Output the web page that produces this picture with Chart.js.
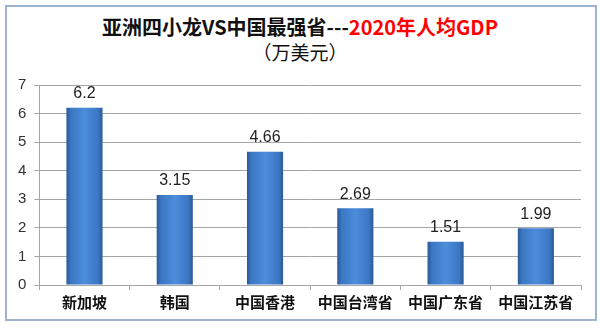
<!DOCTYPE html>
<html lang="zh">
<head>
  <meta charset="UTF-8">
  <title>亚洲四小龙VS中国最强省---2020年人均GDP</title>
  <script src="https://cdn.jsdelivr.net/npm/chart.js"></script>
  <style>
    body { margin: 0; background: #fff; }
    #frame {
      position: absolute; left: 5px; top: 5px;
      width: 588px; height: 312px;
      border: 2px solid #9db3cf;
    }
    .title {
      position: absolute; left: 0; width: 600px; text-align: center;
      font-family: "Noto Sans CJK SC", sans-serif; color: #111;
    }
    #t1 { top: 14px; font-size: 20px; font-weight: bold; line-height: 26px; }
    #t1 span { color: #ff0000; }
    #t2 { top: 39px; font-size: 19px; line-height: 26px; }
    #chartContainer { position: absolute; left: 0; top: 0; width: 600px; height: 325px; }
  </style>
</head>
<body>
<div id="frame"></div>
<div class="title" id="t1">亚洲四小龙VS中国最强省---<span>2020年人均GDP</span></div>
<div class="title" id="t2">（万美元）</div>
<div id="chartContainer">
  <canvas id="gdpChart" width="600" height="325"></canvas>
</div>

<script>
const regions = ['新加坡', '韩国', '中国香港', '中国台湾省', '中国广东省', '中国江苏省'];
const gdpValues = [6.2, 3.15, 4.66, 2.69, 1.51, 1.99];
const yTicks = [0, 1, 2, 3, 4, 5, 6, 7];

// horizontal shading on each bar, dark edges and lighter middle
function barFill(context) {
  const chart = context.chart;
  if (!chart.chartArea) return '#3d78c4';
  const xScale = chart.scales.x;
  const cx = xScale.getPixelForValue(context.dataIndex);
  const w = (chart.chartArea.right - chart.chartArea.left) / regions.length * 0.4;
  const g = chart.ctx.createLinearGradient(cx - w / 2, 0, cx + w / 2, 0);
  g.addColorStop(0, '#2b5894');
  g.addColorStop(0.12, '#3b76c2');
  g.addColorStop(0.5, '#4c8ddc');
  g.addColorStop(0.88, '#3b76c2');
  g.addColorStop(1, '#2b5894');
  return g;
}

const valueLabels = {
  id: 'valueLabels',
  afterDatasetsDraw(chart) {
    const ctx = chart.ctx;
    const meta = chart.getDatasetMeta(0);
    ctx.save();
    ctx.font = '16px "Liberation Sans", sans-serif';
    ctx.fillStyle = '#222';
    ctx.textAlign = 'center';
    ctx.textBaseline = 'bottom';
    meta.data.forEach((bar, i) => {
      ctx.fillText(String(gdpValues[i]), bar.x, bar.y - 6);
    });
    ctx.restore();
  }
};

new Chart(document.getElementById('gdpChart'), {
  type: 'bar',
  data: {
    labels: regions,
    datasets: [{
      data: gdpValues,
      backgroundColor: barFill,
      borderWidth: 0,
      categoryPercentage: 1,
      barPercentage: 0.4
    }]
  },
  options: {
    responsive: false,
    animation: false,
    devicePixelRatio: 1,
    layout: { padding: { top: 85, left: 10, right: 19, bottom: 11 } },
    plugins: {
      legend: { display: false },
      tooltip: { enabled: false },
      title: { display: false }
    },
    scales: {
      y: {
        min: 0, max: 7,
        afterBuildTicks: axis => { axis.ticks = yTicks.map(v => ({ value: v })); },
        ticks: {
          color: '#333',
          font: { family: '"Liberation Sans", sans-serif', size: 15 },
          padding: 8
        },
        grid: { color: '#a6a6a6', tickLength: 5, drawTicks: true },
        border: { color: '#a6a6a6' }
      },
      x: {
        ticks: {
          color: '#111',
          font: { family: '"Noto Sans CJK SC", sans-serif', size: 15, weight: 'bold' },
          padding: 3,
          maxRotation: 0,
          autoSkip: false
        },
        grid: { offset: true, drawOnChartArea: false, tickLength: 5, color: '#a6a6a6' },
        border: { color: '#a6a6a6' }
      }
    }
  },
  plugins: [valueLabels]
});
</script>
</body>
</html>
